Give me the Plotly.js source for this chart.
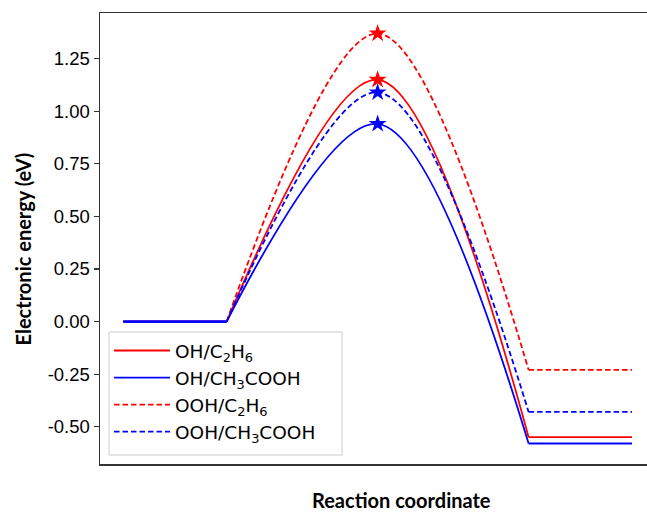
<!DOCTYPE html>
<html>
<head>
<meta charset="utf-8">
<script src="https://cdn.plot.ly/plotly-3.0.1.min.js"></script>
<style>
html, body { margin: 0; padding: 0; overflow: hidden; background: #fff; }
#chart { width: 647px; height: 515px; }
</style>
</head>
<body>
<div id="chart"></div>
<script>
// ---- data ----
const seriesNames = [
  'OH/C<sub>2</sub>H<sub>6</sub>',
  'OH/CH<sub>3</sub>COOH',
  'OOH/C<sub>2</sub>H<sub>6</sub>',
  'OOH/CH<sub>3</sub>COOH'
];
// reaction-coordinate values: initial start, initial end, TS, final start, final end
const stateX = [0, 1, 2.46, 3.92, 4.92];
const initialE = [0, 0, 0, 0];
const tsE = [1.15, 0.94, 1.37, 1.09];
const finalE = [-0.55, -0.58, -0.23, -0.43];
const yTickVals = [-0.5, -0.25, 0, 0.25, 0.5, 0.75, 1.0, 1.25];
const yTickText = ['-0.50', '-0.25', '0.00', '0.25', '0.50', '0.75', '1.00', '1.25'];

// ---- styles ----
const colors = ['#ff0000', '#0000ff', '#ff0000', '#0000ff'];
const dashes = ['solid', 'solid', '5.5px,3px', '5.5px,3px'];

const traces = [];
seriesNames.forEach((name, i) => {
  const line = { color: colors[i], width: 1.8, dash: dashes[i] };
  traces.push({
    x: [stateX[1], stateX[2], stateX[3]], y: [initialE[i], tsE[i], finalE[i]],
    mode: 'lines', line: Object.assign({}, line, { shape: 'spline', smoothing: 1 }),
    name: name, legendgroup: 'g' + i, showlegend: true, hoverinfo: 'skip'
  });
  traces.push({
    x: [stateX[3], stateX[4]], y: [finalE[i], finalE[i]],
    mode: 'lines', line: line, name: name, legendgroup: 'g' + i, showlegend: false,
    hoverinfo: 'skip'
  });
});
// flat initial state, blue drawn last (on top) as in the reference
[0, 2, 1, 3].forEach(i => {
  traces.push({
    x: [stateX[0], stateX[1]], y: [initialE[i], initialE[i]],
    mode: 'lines', line: { color: colors[i], width: colors[i] === '#0000ff' ? 2.2 : 1.6 },
    name: seriesNames[i], legendgroup: 'g' + i, showlegend: false, hoverinfo: 'skip'
  });
});
seriesNames.forEach((name, i) => {
  traces.push({
    x: [stateX[2]], y: [tsE[i]], mode: 'markers',
    marker: { symbol: 'star', size: 13.5, color: colors[i], line: { width: 0 } },
    showlegend: false, hoverinfo: 'skip'
  });
});

const layout = {
  width: 647, height: 515,
  margin: { l: 100, r: 0, t: 13, b: 51 },
  paper_bgcolor: '#ffffff', plot_bgcolor: '#ffffff',
  font: { family: 'Liberation Sans, Arial, sans-serif', size: 18, color: '#000' },
  showlegend: true,
  legend: {
    x: 0.0165, y: 0.2927, xanchor: 'left', yanchor: 'top',
    bgcolor: 'rgba(0,0,0,0)', borderwidth: 0,
    font: { family: 'DejaVu Sans, sans-serif', size: 18.5, color: '#000' },
    traceorder: 'normal', itemwidth: 56
  },
  shapes: [
    {
      type: 'rect', xref: 'paper', yref: 'paper', layer: 'above',
      x0: (109 - 100) / 547, x1: (342 - 100) / 547,
      y0: (464 - 455) / 451, y1: (464 - 332) / 451,
      line: { color: '#cccccc', width: 1 }, fillcolor: 'rgba(255,255,255,0.8)'
    }
  ],
  xaxis: {
    range: [-0.225, 5.065], showticklabels: false, ticks: '', showgrid: false,
    zeroline: false, showline: true, linecolor: '#333333', linewidth: 1.5, mirror: true
  },
  yaxis: {
    range: [-0.6775, 1.4675], tickvals: yTickVals, ticktext: yTickText,
    ticks: 'outside', ticklen: 5, tickwidth: 1.2, tickcolor: '#333333',
    showgrid: false, zeroline: false, showline: true, linecolor: '#333333', linewidth: 1.5,
    tickfont: { family: 'Liberation Sans, Arial, sans-serif', size: 18.5, color: '#000' }
  },
  annotations: [
    {
      text: '<b>Reaction coordinate</b>', xref: 'paper', yref: 'paper',
      x: (401 - 100) / 547, y: -(500 - 464) / 451, xanchor: 'center', yanchor: 'middle',
      showarrow: false, font: { family: 'Lato, sans-serif', size: 20, color: '#000' }
    },
    {
      text: '<b>Electronic energy (eV)</b>', xref: 'paper', yref: 'paper',
      x: -(100 - 22) / 547, y: (464 - 249.5) / 451, xanchor: 'center', yanchor: 'middle',
      textangle: -90, showarrow: false,
      font: { family: 'Lato, sans-serif', size: 20, color: '#000' }
    }
  ]
};

Plotly.newPlot('chart', traces, layout, { displayModeBar: false, staticPlot: true });
</script>
</body>
</html>
